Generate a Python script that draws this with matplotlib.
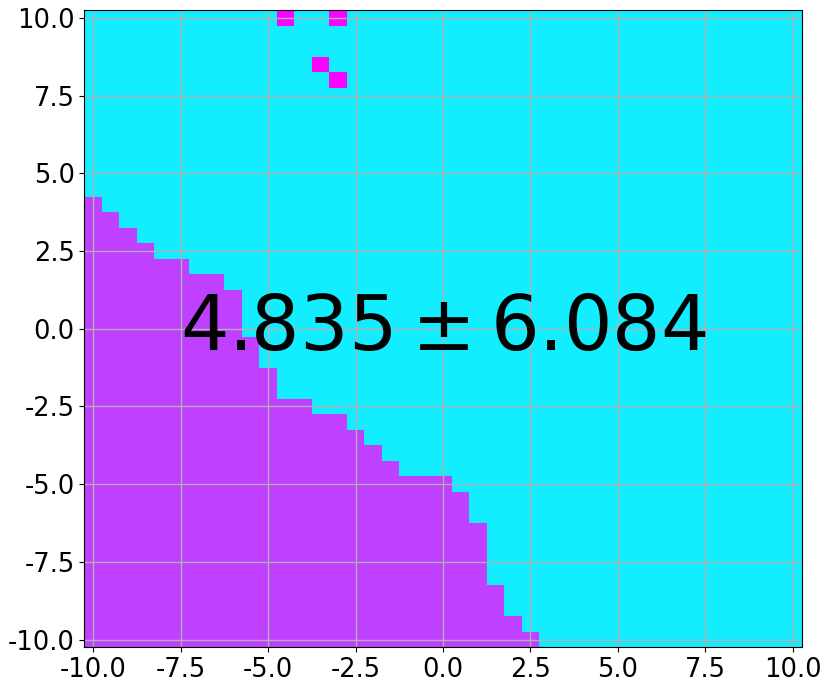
import numpy as np
import matplotlib
matplotlib.use("Agg")
import matplotlib.pyplot as plt
from matplotlib.colors import ListedColormap, BoundaryNorm

# grid of cell centres
grid_vals = np.arange(-10, 10.01, 0.5)

# top of the purple region (class 1) for each column, x = -10 ... 2.5
purple_cols_x = [-10, -9.5, -9.0, -8.5, -8.0, -7.5, -7.0, -6.5, -6.0, -5.5, -5.0,
                 -4.5, -4.0, -3.5, -3.0, -2.5, -2.0, -1.5, -1.0, -0.5, 0.0,
                 0.5, 1.0, 1.5, 2.0, 2.5]
purple_top_y = [4.0, 3.5, 3.0, 2.5, 2.0, 2.0, 1.5, 1.5, 1.0, -0.5, -1.5,
                -2.5, -2.5, -3.0, -3.0, -3.5, -4.0, -4.5, -5.0, -5.0, -5.0,
                -5.5, -6.5, -8.5, -9.5, -10.0]

# isolated magenta cells (class 2)
magenta_x = [-4.5, -3.0, -3.5, -3.0]
magenta_y = [10.0, 10.0, 8.5, 8.0]

score_text = r"$4.835 \pm 6.084$"

class_colors = ["#12EDFF", "#BF40FF", "#F905FF"]

X, Y = np.meshgrid(grid_vals, grid_vals)
Z = np.zeros_like(X)
for cx, ty in zip(purple_cols_x, purple_top_y):
    Z[(np.isclose(X, cx)) & (Y <= ty + 1e-9)] = 1
for mx, my in zip(magenta_x, magenta_y):
    Z[np.isclose(X, mx) & np.isclose(Y, my)] = 2

fig = plt.figure(figsize=(8.3, 6.9), dpi=100)
ax = fig.add_axes([0.1016, 0.0619, 0.8643, 0.9232])
cmap = ListedColormap(class_colors)
norm = BoundaryNorm([-0.5, 0.5, 1.5, 2.5], cmap.N)
ax.pcolormesh(X, Y, Z, cmap=cmap, norm=norm, shading="nearest")
ax.set_xlim(-10.25, 10.25)
ax.set_ylim(-10.25, 10.25)
ticks = [-10.0, -7.5, -5.0, -2.5, 0.0, 2.5, 5.0, 7.5, 10.0]
ax.set_xticks(ticks)
ax.set_yticks(ticks)
ax.set_xticklabels([f"{t:.1f}" for t in ticks])
ax.set_yticklabels([f"{t:.1f}" for t in ticks])
ax.tick_params(labelsize=18.5)
ax.grid(True, color="#b0b0b0", linewidth=1.0)
ax.text(0, 0, score_text, fontsize=55, ha="center", va="center")

fig.savefig("out.png", dpi=100)
